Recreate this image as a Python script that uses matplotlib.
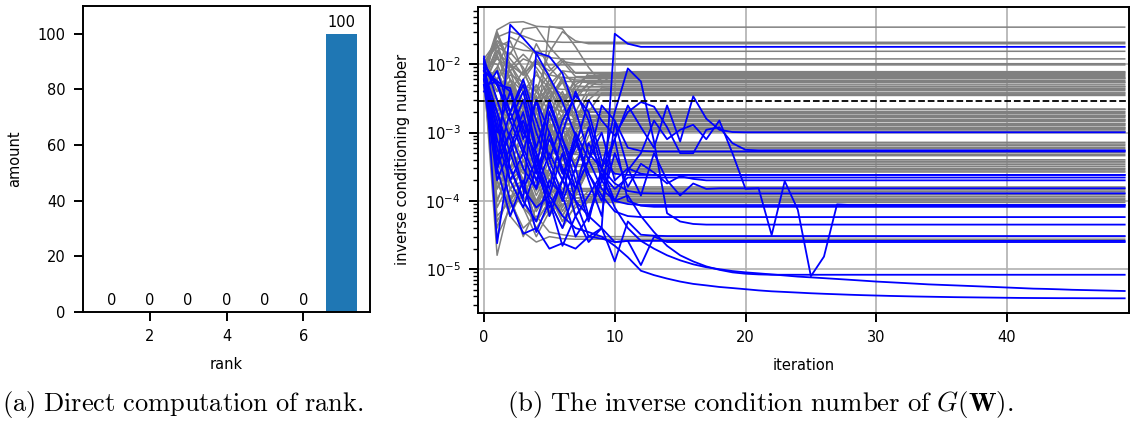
import numpy as np
import matplotlib
matplotlib.use("Agg")
import matplotlib.pyplot as plt

plt.rcParams['mathtext.fontset'] = 'cm'

# (a) rank histogram
ranks = [1, 2, 3, 4, 5, 6, 7]
amounts = [0, 0, 0, 0, 0, 0, 100]

# (b) inverse condition number per iteration, one list per run.
# every run is flat after its last listed value (it has converged)
gray_high = [
    [8e-3, 3.2e-2, 4.1e-2, 4.2e-2, 3.6e-2, 3.5e-2],
    [1e-2, 2.5e-2, 3e-2, 2.6e-2, 2.2e-2, 2.15e-2, 2.1e-2],
    [6e-3, 1.5e-2, 1e-2, 5e-3, 4e-3, 1.5e-2, 3.0e-2, 2.2e-2, 2.0e-2],
    [1.2e-2, 2.2e-2, 1.8e-2, 1.6e-2, 1.55e-2],
    [5e-3, 9e-3, 2.5e-2, 2e-2, 1.4e-2, 1.25e-2, 1.2e-2],
    [1.1e-2, 1.8e-2, 1.4e-2, 3.3e-2, 3.5e-2, 1.8e-2, 1.1e-2, 1.02e-2],
    [9e-3, 4e-3, 8e-3, 1.2e-2, 1e-2, 9.8e-3],
    [7e-3, 2e-3, 6e-3, 1.5e-3, 1e-3, 3.6e-2, 3.3e-2, 1.8e-2, 9e-3, 5.3e-3, 7.4e-3, 7.8e-3],
]
gray_band1 = [
    [8e-3, 1.2e-2, 9e-3, 1.4e-2, 9e-3, 5e-3, 8e-3, 7.6e-3],
    [6e-3, 2.5e-3, 4e-3, 8e-4, 2e-3, 6e-3, 2e-3, 4e-3, 7.5e-3, 7.1e-3],
    [1e-2, 6e-3, 1.5e-2, 9e-3, 4e-3, 7e-3, 1.1e-2, 6.6e-3],
    [7e-3, 1.6e-2, 8e-3, 2e-3, 5e-3, 1e-3, 2.5e-3, 6.5e-3, 6.2e-3],
    [5e-3, 1.1e-3, 2e-3, 5e-3, 1.2e-3, 3e-3, 6.5e-3, 5.9e-3, 5.8e-3],
    [9e-3, 2.2e-2, 1.2e-2, 7e-3, 1.1e-2, 6e-3, 3e-3, 5.6e-3, 5.4e-3],
    [6e-3, 8e-3, 3e-3, 6e-4, 1.5e-3, 4.5e-3, 1.5e-3, 3.5e-3, 5.2e-3, 5e-3],
    [1.1e-2, 4e-3, 7e-3, 5.5e-3, 2.5e-3, 4e-3, 8e-3, 4.8e-3, 4.7e-3],
    [7e-3, 3e-4, 1.2e-3, 3e-3, 8e-4, 2e-3, 4e-3, 1.5e-3, 3e-3, 4.5e-3, 4.4e-3],
    [5e-3, 1.3e-2, 6e-3, 4e-3, 7e-3, 4.5e-3, 2e-3, 4.1e-3],
    [8e-3, 1.5e-3, 5e-3, 2.5e-3, 6e-4, 1.5e-3, 3.5e-3, 8e-4, 2e-3, 3.8e-3],
    [6e-3, 2.8e-2, 8e-3, 4e-3, 2e-3, 3.4e-3, 6e-3, 3.5e-3],
    [5e-3, 9e-3, 2e-3, 6e-3, 1.1e-2, 8e-3, 1.2e-2, 7.4e-3],
    [1.2e-2, 2e-3, 4e-3, 8e-3, 3e-3, 6e-3, 2.5e-3, 5e-3, 6.9e-3],
    [6e-3, 3e-2, 1e-2, 7e-3, 1.2e-2, 7e-3, 6.4e-3],
    [8e-3, 5e-4, 2e-3, 4e-3, 9e-4, 3e-3, 5.5e-3, 2e-3, 4.5e-3, 6.2e-3],
    [4e-3, 6e-3, 1e-2, 7e-3, 2e-2, 9e-3, 5.6e-3],
    [9e-3, 2e-2, 3e-3, 5e-3, 1.5e-3, 4e-3, 1e-3, 3e-3, 5.4e-3],
    [7e-3, 8e-4, 5e-3, 1.6e-3, 3.5e-3, 6e-4, 1.8e-3, 4.7e-3],
    [6e-3, 1.8e-2, 2.2e-2, 8e-3, 3e-3, 4.5e-3, 4.3e-3],
    [1e-2, 3e-3, 2e-3, 3e-3, 7e-4, 2e-3, 5e-4, 1.5e-3, 3.8e-3],
    [5e-3, 2e-3, 1e-2, 4e-3, 2.2e-3, 5e-3, 3.6e-3],
]
gray_band2 = [
    [9e-3, 5e-4, 3e-3, 2.5e-3, 6e-4, 1.5e-3, 4e-4, 1e-3, 2.2e-3],
    [5e-3, 1.4e-2, 4e-3, 2.5e-3, 8e-3, 3e-3, 6e-3, 2.05e-3],
    [7e-3, 2e-4, 6e-4, 1.2e-3, 3e-4, 8e-4, 1.6e-3, 5e-4, 1.2e-3, 1.9e-3],
    [1.2e-2, 3e-3, 1e-3, 2e-3, 5e-4, 1.2e-3, 1.8e-3, 1.78e-3],
    [6e-3, 8e-3, 3e-3, 1.5e-3, 4e-3, 2e-3, 7e-4, 1.7e-3, 1.66e-3],
    [8e-3, 1.5e-4, 4e-4, 8e-4, 2e-4, 6e-4, 1.2e-3, 3e-4, 9e-4, 1.5e-3, 1.55e-3],
    [4e-3, 2e-3, 6e-3, 2.5e-3, 8e-4, 1.5e-3, 3e-3, 1.45e-3],
    [1e-2, 1.2e-3, 8e-4, 3e-3, 1e-3, 1.3e-3, 4e-4, 1.35e-3],
    [6e-3, 4e-4, 2e-3, 6e-4, 1.5e-3, 5e-4, 1.8e-3, 1.26e-3],
    [9e-3, 6e-3, 2e-3, 8e-4, 3e-3, 1e-3, 1.15e-3, 1.18e-3],
    [5e-3, 1e-4, 3e-4, 6e-4, 2.5e-4, 9e-4, 3e-4, 7e-4, 1.1e-3],
    [7e-3, 2.5e-3, 1.5e-3, 5e-4, 1.1e-3, 2.5e-3, 1.04e-3],
    [8e-3, 4e-3, 5e-3, 3e-3, 1e-3, 2.5e-3, 8e-4, 1.6e-3, 2.2e-3],
    [6e-3, 6e-4, 1.5e-3, 2.5e-3, 5e-3, 2.5e-3, 1.98e-3],
    [1e-2, 2e-2, 6e-3, 2.5e-3, 1e-3, 1.5e-3, 3.5e-3, 1.78e-3],
    [5e-3, 3e-4, 1e-3, 1.5e-3, 4e-4, 1.2e-3, 6e-4, 1.72e-3],
    [7e-3, 1e-3, 3e-3, 1.2e-3, 2.2e-3, 1.55e-3],
    [9e-3, 2e-4, 7e-4, 1.3e-3, 4e-4, 1.1e-3, 2.5e-4, 8e-4, 1.5e-3],
    [6e-3, 3e-3, 8e-4, 1.1e-3, 2e-3, 6e-4, 1.35e-3],
    [4e-3, 1.5e-3, 4e-3, 1.8e-3, 7e-4, 1.3e-3],
    [8e-3, 5e-4, 2.5e-4, 6e-4, 1.5e-3, 1e-3, 4e-4, 1.18e-3],
    [1.1e-2, 1e-2, 4e-3, 1.5e-3, 6e-4, 9e-4, 1.14e-3],
    [7e-3, 2e-3, 3e-4, 5e-4, 1.4e-4, 4e-4, 9e-4, 3.5e-4, 7e-4, 1.04e-3],
]
gray_band3 = [
    [8e-3, 3e-4, 1e-3, 8e-4, 3e-4, 6e-4, 2e-4, 4e-4, 7.2e-4],
    [6e-3, 2e-3, 5e-4, 3e-4, 1e-3, 5e-4, 6.5e-4],
    [1e-2, 6e-4, 2e-4, 4e-4, 1.2e-4, 3e-4, 6e-4, 1.5e-4, 5.8e-4],
    [5e-3, 1.2e-3, 3e-3, 8e-4, 4e-4, 2e-4, 4e-4, 5.1e-4],
    [7e-3, 8e-5, 2e-4, 3e-4, 9e-5, 2e-4, 4.5e-4, 1.2e-4, 3e-4, 4.6e-4],
    [9e-3, 4e-4, 1.5e-3, 6e-4, 2e-3, 6e-4, 4e-4],
    [6e-3, 1e-3, 2e-4, 3e-4, 1e-4, 2.5e-4, 7e-5, 1.5e-4, 3.6e-4],
    [8e-3, 2e-3, 8e-4, 1.5e-4, 4e-4, 2.5e-4, 3.2e-4],
    [5e-3, 6e-5, 1e-4, 2e-4, 7e-5, 1.5e-4, 5e-5, 1.2e-4, 2.9e-4],
    [1.1e-2, 5e-4, 9e-4, 3e-4, 1e-3, 4e-4, 2.6e-4, 2.65e-4],
    [6e-3, 1.5e-4, 3e-4, 1.2e-3, 5e-4, 2e-4, 4e-4, 6.8e-4],
    [9e-3, 2e-3, 9e-4, 3e-3, 1e-3, 6.1e-4],
    [5e-3, 4e-4, 1e-3, 4e-4, 1.5e-4, 3e-4, 8e-5, 2e-4, 5.4e-4],
    [7e-3, 6e-4, 1.5e-4, 3e-4, 8e-4, 5e-4, 4.8e-4],
    [8e-3, 3e-5, 8e-5, 2e-4, 5e-5, 1.5e-4, 6e-5, 1.3e-4, 3.8e-4],
    [1e-2, 1.5e-3, 5e-4, 2.5e-4, 6e-4, 4e-4, 3.4e-4],
    [6e-3, 2e-4, 5e-4, 2e-4, 8e-5, 2e-4, 6e-5, 1.5e-4, 3.0e-4],
    [7e-3, 1e-3, 1.5e-4, 2e-4, 6e-4, 3.5e-4, 2.75e-4],
]
gray_low = [
    [7e-3, 2e-4, 5e-4, 3e-4, 8e-5, 1.2e-4, 2e-4, 6e-5, 1e-4, 1.7e-4, 1.6e-4],
    [9e-3, 1e-4, 3e-4, 1e-4, 4e-5, 8e-5, 1.3e-4, 1.45e-4],
    [6e-3, 5e-4, 1e-4, 2e-4, 5e-5, 1e-4, 4e-5, 9e-5, 1.4e-4, 1.3e-4],
    [8e-3, 3e-3, 6e-4, 2e-4, 9e-5, 3e-4, 1.5e-4, 1.1e-4, 1.17e-4],
    [5e-3, 3e-4, 8e-5, 1.2e-4, 3e-4, 1.2e-4, 5e-5, 8e-5, 1.05e-4],
    [1e-2, 4e-5, 1.5e-4, 8e-5, 3e-5, 7e-5, 9e-5, 9.5e-5],
    [7e-3, 1.6e-5, 1e-4, 4e-5, 6e-5, 3.5e-5, 3.2e-5, 3e-5],
    [6e-3, 2e-4, 6e-5, 3.5e-5, 2.5e-5, 3e-5, 2.8e-5, 2.75e-5],
    [5e-3, 4e-4, 1e-4, 4e-4, 2e-4, 7e-5, 1.52e-4],
    [9e-3, 5e-5, 1.2e-4, 3e-5, 8e-5, 1.38e-4],
    [6e-3, 1e-3, 3e-4, 1e-4, 2e-4, 6e-5, 1.24e-4],
    [8e-3, 2e-4, 6e-5, 1.5e-4, 8e-5, 1.1e-4],
    [7e-3, 8e-4, 2e-4, 8e-5, 5e-5, 1e-4],
]
blue_runs = [
    [1.1e-2, 2.5e-4, 3.8e-2, 2.4e-2, 1.45e-2, 6.5e-3, 2.8e-3, 9e-4, 2.5e-4, 1.2e-4, 7e-5, 6e-5, 5.8e-5],
    [6e-3, 1.2e-3, 3e-4, 1.1e-4, 1.5e-2, 1.3e-2, 7.4e-3, 2.1e-3, 5e-4, 3e-4, 1.8e-4, 1.4e-4, 1.3e-4, 1.29e-4],
    [1.3e-2, 2.4e-5, 5e-4, 1.5e-3, 4e-4, 1.2e-4, 5e-4, 1e-4, 3e-5, 4e-5, 2.8e-2, 2e-2, 1.8e-2],
    [5e-3, 5.5e-3, 1.5e-3, 4e-3, 6e-4, 2.5e-3, 8e-4, 3e-4, 1.2e-3, 2e-4, 8e-4, 2.5e-3, 1.2e-3, 6e-4,
     2.5e-3, 7.4e-4, 3.4e-3, 1.6e-3, 1.1e-3, 1.02e-3, 1.01e-3],
    [7e-3, 3e-4, 1e-3, 3e-3, 5e-4, 1.5e-4, 1e-3, 4e-3, 1.5e-3, 3e-4, 1e-4, 2.8e-4, 5e-4, 1.5e-3, 8e-4,
     1.1e-3, 1.3e-3, 8e-4, 1.5e-3, 5e-4, 1.5e-4, 1.53e-4, 3.16e-5, 1.95e-4, 7.4e-5, 7.9e-6, 1.53e-5,
     8.9e-5, 8.7e-5],
    [9e-3, 1e-3, 4e-3, 8e-4, 3e-3, 1e-3, 2.5e-4, 6e-4, 3e-3, 1.5e-3, 9e-4, 2e-3, 2.8e-3, 2.4e-3, 1.2e-3,
     5e-4, 5e-4, 1.1e-3, 1.2e-3, 7e-4, 5.6e-4, 5.5e-4],
    [5e-3, 2e-4, 6e-4, 2e-3, 3e-4, 8e-5, 2e-4, 1e-3, 4e-4, 2.5e-3, 1.5e-3, 6e-4, 5.4e-4, 5.3e-4],
    [1e-2, 5e-3, 1.5e-3, 5e-4, 1.5e-4, 2e-3, 6e-4, 1.5e-4, 4e-4, 1e-3, 2e-4, 3e-4, 2.5e-4, 2.4e-4],
    [6e-3, 8e-4, 2e-4, 5e-4, 3e-3, 4e-4, 1.2e-4, 8e-4, 2.5e-4, 1e-4, 5e-4, 1.6e-4, 3.5e-4, 2.6e-4,
     1.8e-4, 2.3e-4, 2.1e-4, 2.0e-4],
    [8e-3, 5e-3, 4.5e-3, 1e-3, 5e-4, 6e-5, 2e-4, 8e-4, 2e-4, 6e-5, 1.4e-3, 3e-4, 1.2e-4, 5e-4, 2e-4,
     1.2e-4, 1.8e-4, 1.5e-4, 1.53e-4],
    [7e-3, 1.5e-3, 2e-4, 8e-5, 3e-4, 3e-3, 8e-4, 2e-4, 5e-5, 3e-4, 8e-4, 1e-4, 8.5e-5, 8.2e-5],
    [1.2e-2, 3e-3, 8e-4, 1.5e-4, 4e-4, 1e-4, 4e-5, 1.5e-4, 7e-4, 3e-4, 2e-3, 8.7e-3, 5.6e-3, 7.4e-4,
     6.6e-5, 5e-5, 4.6e-5, 4.5e-5],
    [5e-3, 2e-3, 3e-4, 1e-4, 5e-5, 2e-4, 1.2e-4, 3e-5, 6e-5, 4e-5, 1.3e-5, 5e-5, 3.2e-5, 3.1e-5, 3.06e-5],
    [9e-3, 6e-4, 1e-4, 3.3e-5, 4e-5, 2e-5, 2.4e-5, 2e-5, 3e-5, 2.8e-5, 2.5e-5, 2.6e-5, 1.15e-5, 3e-5, 2.5e-5],
    [1e-2, 5e-3, 2e-3, 6e-4, 2e-4, 8e-4, 3e-4, 1.5e-4, 4e-4, 1.5e-4, 1e-4, 1.2e-4, 6e-5, 3.5e-5, 2.2e-5,
     1.6e-5, 1.3e-5, 1.1e-5, 9.8e-6, 9.0e-6, 8.6e-6, 8.4e-6, 8.3e-6],
    [4e-3, 8e-3, 2e-3, 6e-3, 1.5e-3, 4e-4, 1.5e-3, 3.5e-3, 2e-3, 4e-4, 2.5e-4, 2.4e-4],
    [8e-3, 5.7e-3, 4e-3, 1.2e-3, 2.5e-4, 1e-3, 3e-4, 6e-5, 1.2e-4, 2.5e-4, 1.5e-4, 2.2e-4],
    [1.1e-2, 4e-4, 2e-3, 5e-3, 1e-3, 3e-4, 1e-4, 3e-4, 6e-5, 2e-4, 1e-4, 9e-5, 8.7e-5],
    [7e-3, 3e-4, 6e-5, 2e-4, 3.5e-5, 1e-4, 2.2e-5, 6e-5, 2.5e-5, 4e-5, 2.5e-5, 2.6e-5],
]
# the two runs that keep creeping down until the last iteration
blue_tail_a = [8e-3, 2e-3, 5e-4, 1.5e-4, 8e-5, 1.2e-4, 6e-5, 4e-5, 3.5e-5, 3e-5, 2.2e-5, 1.5e-5, 9.5e-6,
               8.2e-6, 7.3e-6, 6.6e-6, 6.1e-6, 5.8e-6, 5.5e-6, 5.3e-6, 5.1e-6, 4.9e-6, 4.75e-6, 4.65e-6,
               4.55e-6, 4.45e-6, 4.37e-6, 4.3e-6, 4.23e-6, 4.17e-6, 4.12e-6, 4.07e-6, 4.03e-6, 3.99e-6,
               3.96e-6, 3.93e-6, 3.9e-6, 3.88e-6, 3.86e-6, 3.84e-6, 3.82e-6, 3.8e-6, 3.79e-6, 3.78e-6,
               3.77e-6, 3.77e-6, 3.76e-6, 3.76e-6, 3.75e-6, 3.75e-6]
blue_tail_b = [6e-3, 4e-4, 1e-3, 3e-4, 1.5e-4, 5e-4, 2e-4, 1e-4, 6e-5, 2.5e-4, 8e-5, 4e-5, 2.6e-5, 2.0e-5,
               1.6e-5, 1.35e-5, 1.18e-5, 1.07e-5, 1.0e-5, 9.4e-6, 9.0e-6, 8.7e-6, 8.4e-6, 8.1e-6, 7.8e-6,
               7.6e-6, 7.4e-6, 7.2e-6, 7.0e-6, 6.8e-6, 6.6e-6, 6.45e-6, 6.3e-6, 6.15e-6, 6.0e-6, 5.9e-6,
               5.8e-6, 5.7e-6, 5.6e-6, 5.5e-6, 5.4e-6, 5.3e-6, 5.2e-6, 5.15e-6, 5.08e-6, 5.0e-6, 4.95e-6,
               4.9e-6, 4.85e-6, 4.8e-6]
threshold = 2.93e-3
n_iter = 50


def pad_run(run):
    # converged runs stay at their last value
    return run + [run[-1]] * (n_iter - len(run))


def style_axes(ax):
    for s in ax.spines.values():
        s.set_linewidth(1.4)
    ax.tick_params(which='major', length=6.5, width=1.4, pad=6, labelsize=10.5)
    ax.tick_params(which='minor', length=3.5, width=1.0)


fig = plt.figure(figsize=(11.3, 4.21), dpi=100)
ax1 = fig.add_axes([83 / 1130, 109 / 421, 287 / 1130, 306 / 421])
ax2 = fig.add_axes([478 / 1130, 108.3 / 421, 651 / 1130, 306 / 421])

bars = ax1.bar(ranks, amounts, width=0.8, color='#1f77b4')
ax1.bar_label(bars, padding=3, fontsize=10.5)
ax1.set_ylim(0, 110)
ax1.set_xlabel("rank", fontsize=10.5, labelpad=9)
ax1.set_ylabel("amount", fontsize=10.5, labelpad=11)
style_axes(ax1)

for group in [gray_high, gray_band1, gray_band2, gray_band3, gray_low]:
    for run in group:
        ax2.plot(np.arange(n_iter), pad_run(run), color='gray', lw=1.1)
for run in blue_runs + [blue_tail_a, blue_tail_b]:
    ax2.plot(np.arange(n_iter), pad_run(run), color='blue', lw=1.3)
ax2.axhline(threshold, color='black', ls='--', lw=1.3)

ax2.set_yscale('log')
ax2.set_ylim(2.31e-6, 6.97e-2)
ax2.set_xlim(-0.46, 49.33)
ax2.grid(True, which='major', color='#b0b0b0', lw=1.2)
ax2.set_xlabel("iteration", fontsize=10.5, labelpad=9)
ax2.set_ylabel("inverse conditioning number", fontsize=10.5, labelpad=11)
style_axes(ax2)

fig.text(183 / 1130, 16 / 421, r"$\mathrm{(a)\ Direct\ computation\ of\ rank.}$",
         ha='center', va='center', fontsize=19)
fig.text(760 / 1130, 16 / 421,
         r"$\mathrm{(b)\ The\ inverse\ condition\ number\ of\ }G(\mathbf{W})\mathrm{.}$",
         ha='center', va='center', fontsize=19.3)

fig.savefig("out.png", dpi=100)
